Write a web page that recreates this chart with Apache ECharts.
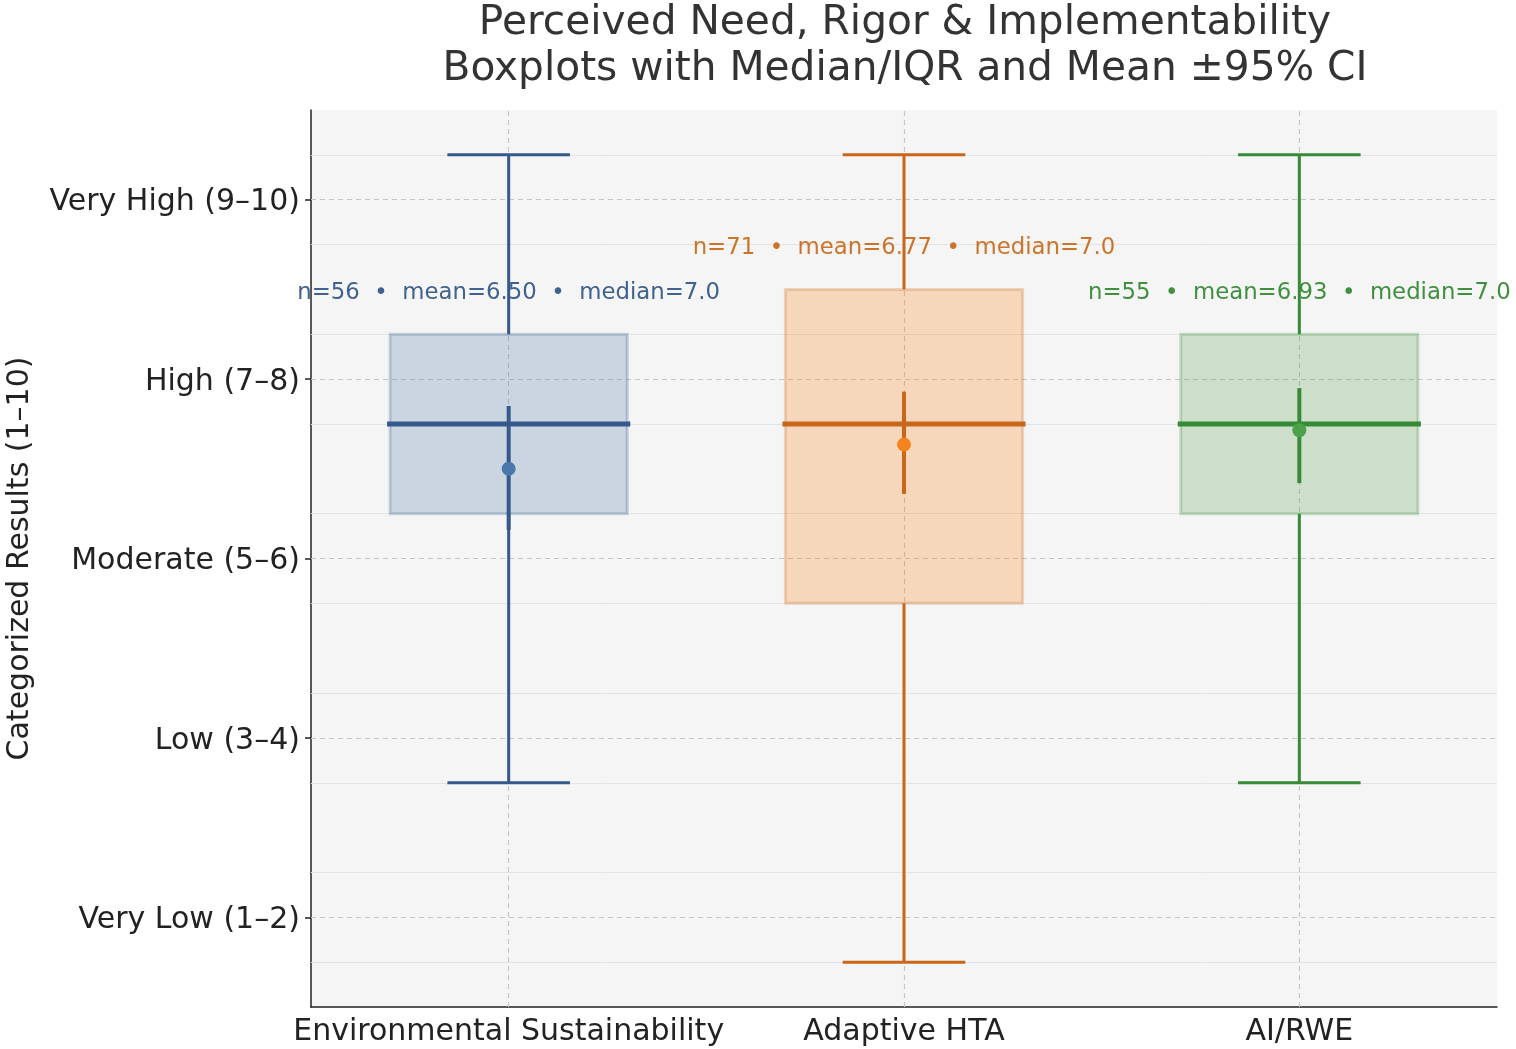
<!DOCTYPE html>
<html>
<head>
<meta charset="utf-8">
<title>Perceived Need, Rigor & Implementability</title>
<script src="https://cdn.jsdelivr.net/npm/echarts@6/dist/echarts.min.js"></script>
<style>
  html, body { margin: 0; padding: 0; background: #fff; }
  #chart { width: 1516px; height: 1049px; }
</style>
</head>
<body>
<div id="chart"></div>
<script>
// data
const categories = ['Environmental Sustainability', 'Adaptive HTA', 'AI/RWE'];
const whiskerLow = [3, 1, 3];
const q1 = [6, 5, 6];
const medians = [7.0, 7.0, 7.0];
const q3 = [8, 8.5, 8];
const whiskerHigh = [10, 10, 10];
const means = [6.50, 6.77, 6.93];
const ciLow = [5.82, 6.22, 6.34];
const ciHigh = [7.20, 7.36, 7.40];
const counts = [56, 71, 55];

// y axis levels
const levelTicks = [1.5, 3.5, 5.5, 7.5, 9.5];
const levelLabels = ['Very Low (1–2)', 'Low (3–4)', 'Moderate (5–6)', 'High (7–8)', 'Very High (9–10)'];
const minorLines = [1, 2, 3, 4, 5, 6, 7, 8, 9, 10];

// colours
const lineColors = ['#35598a', '#c8661a', '#378a37'];
const textColors = ['#40628f', '#cc7429', '#409040'];
const fillColors = ['rgba(78,121,167,0.25)', 'rgba(255,127,14,0.25)', 'rgba(89,161,79,0.25)'];
const edgeColors = ['rgba(53,89,138,0.25)', 'rgba(200,102,26,0.25)', 'rgba(55,138,55,0.25)'];
const meanColors = ['#4a78aa', '#f5841f', '#4ca24a'];

const FONT = '"DejaVu Sans", sans-serif';

let boxData = categories.map(function (c, i) {
  return [i, whiskerLow[i], q1[i], medians[i], q3[i], whiskerHigh[i], means[i], ciLow[i], ciHigh[i], counts[i]];
});

// grid lines via markLine
let gridLines = [];
minorLines.forEach(function (v) {
  gridLines.push({ yAxis: v, lineStyle: { color: '#e4e4e4', width: 1, type: 'solid' } });
});
levelTicks.forEach(function (v) {
  gridLines.push({ yAxis: v, lineStyle: { color: '#c6c6c6', width: 1.2, type: [5, 4] } });
});
categories.forEach(function (c) {
  gridLines.push({ xAxis: c, lineStyle: { color: '#c6c6c6', width: 1.2, type: [5, 4] } });
});

function renderBox(params, api) {
  let i = api.value(0);
  let bandW = api.size([1, 0])[0];
  let bw = bandW * 0.6;
  let capW = bandW * 0.31;
  let x = api.coord([i, 0])[0];
  let yLo = api.coord([i, api.value(1)])[1];
  let yQ1 = api.coord([i, api.value(2)])[1];
  let yMed = api.coord([i, api.value(3)])[1];
  let yQ3 = api.coord([i, api.value(4)])[1];
  let yHi = api.coord([i, api.value(5)])[1];
  let yMean = api.coord([i, api.value(6)])[1];
  let yCiLo = api.coord([i, api.value(7)])[1];
  let yCiHi = api.coord([i, api.value(8)])[1];
  let yText = api.coord([i, api.value(4) + 0.5])[1];
  let col = lineColors[i];
  let label = 'n=' + api.value(9) + '  •  mean=' + api.value(6).toFixed(2) + '  •  median=' + api.value(3).toFixed(1);

  return {
    type: 'group',
    children: [
      {
        type: 'text',
        style: {
          x: x, y: yText + 4, text: label, fill: textColors[i],
          font: '22.8px ' + FONT, align: 'center', verticalAlign: 'middle'
        }
      },
      { type: 'line', shape: { x1: x, y1: yQ3, x2: x, y2: yHi }, style: { stroke: col, lineWidth: 3 } },
      { type: 'line', shape: { x1: x, y1: yQ1, x2: x, y2: yLo }, style: { stroke: col, lineWidth: 3 } },
      { type: 'line', shape: { x1: x - capW / 2, y1: yHi, x2: x + capW / 2, y2: yHi }, style: { stroke: col, lineWidth: 3 } },
      { type: 'line', shape: { x1: x - capW / 2, y1: yLo, x2: x + capW / 2, y2: yLo }, style: { stroke: col, lineWidth: 3 } },
      {
        type: 'rect',
        shape: { x: x - bw / 2, y: yQ3, width: bw, height: yQ1 - yQ3 },
        style: { fill: fillColors[i], stroke: edgeColors[i], lineWidth: 3 }
      },
      { type: 'line', shape: { x1: x - bw / 2 - 3, y1: yMed, x2: x + bw / 2 + 3, y2: yMed }, style: { stroke: col, lineWidth: 5 } },
      { type: 'line', shape: { x1: x, y1: yCiHi, x2: x, y2: yCiLo }, style: { stroke: col, lineWidth: 4 } },
      { type: 'circle', shape: { cx: x, cy: yMean, r: 7 }, style: { fill: meanColors[i] } }
    ]
  };
}

let chart = echarts.init(document.getElementById('chart'));
chart.setOption({
  animation: false,
  backgroundColor: '#ffffff',
  title: {
    text: 'Perceived Need, Rigor & Implementability\nBoxplots with Median/IQR and Mean ±95% CI',
    left: 900,
    top: -5,
    textAlign: 'center',
    textStyle: { fontFamily: FONT, fontSize: 40.7, fontWeight: 'normal', color: '#333', lineHeight: 46 }
  },
  grid: {
    left: 311, right: 19, top: 110, bottom: 42,
    outerBoundsMode: 'none',
    containLabel: false,
    show: true, backgroundColor: '#f5f5f5', borderWidth: 0
  },
  xAxis: {
    type: 'category',
    data: categories,
    axisLine: { lineStyle: { color: '#222', width: 1.5 } },
    axisTick: { alignWithLabel: true, length: 6, lineStyle: { color: '#222', width: 1.5 } },
    axisLabel: { interval: 0, hideOverlap: false, fontFamily: FONT, fontSize: 30, color: '#222', margin: 10 },
    splitLine: { show: false }
  },
  yAxis: {
    type: 'value',
    min: 0.5,
    max: 10.5,
    name: 'Categorized Results (1–10)',
    nameLocation: 'middle',
    nameRotate: 90,
    nameGap: 276,
    nameTextStyle: { fontFamily: FONT, fontSize: 30, color: '#222' },
    axisLine: { show: true, lineStyle: { color: '#222', width: 1.5 } },
    axisTick: { show: true, length: 6, customValues: levelTicks, lineStyle: { color: '#222', width: 1.5 } },
    axisLabel: {
      customValues: levelTicks,
      fontFamily: FONT, fontSize: 30, color: '#222', margin: 11,
      rich: {
        lv: { fontFamily: FONT, fontSize: 30, color: '#222', padding: [6, 0, 0, 0] }
      },
      formatter: function (v) {
        let k = levelTicks.indexOf(v);
        return k >= 0 ? '{lv|' + levelLabels[k] + '}' : '';
      }
    },
    splitLine: { show: false }
  },
  series: [
    {
      type: 'custom',
      name: 'boxes',
      clip: false,
      z: 3,
      data: boxData,
      encode: { x: 0, y: [1, 2, 3, 4, 5] },
      renderItem: renderBox,
      markLine: {
        silent: true,
        z: 1,
        symbol: ['none', 'none'],
        label: { show: false },
        data: gridLines
      }
    }
  ]
});
</script>
</body>
</html>
